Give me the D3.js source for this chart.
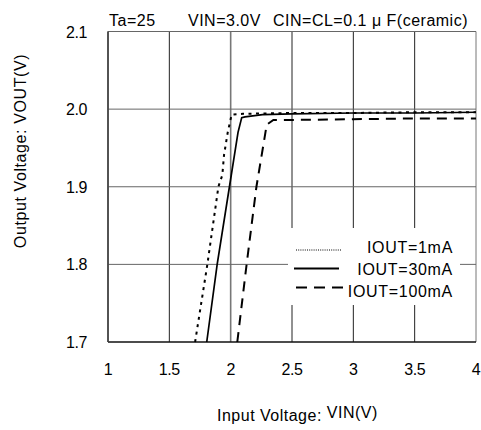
<!DOCTYPE html>
<html>
<head>
<meta charset="utf-8">
<script src="https://cdn.jsdelivr.net/npm/d3@7"></script>
<style>
  body { margin: 0; background: #fff; }
  text { font-family: Arial, "Liberation Sans", sans-serif; fill: #000; }
</style>
</head>
<body>
<svg id="chart" width="481" height="430"></svg>
<script>
// series (VIN in V, VOUT in V)
const vin1mA = [1.71, 1.81, 1.90, 1.932, 1.946, 1.976, 2.008, 2.1, 2.5, 3.0, 3.5, 4.0];
const vout1mA = [1.70, 1.80, 1.90, 1.915, 1.941, 1.970, 1.993, 1.994, 1.995, 1.995, 1.996, 1.996];
const vin30mA = [1.805, 1.89, 1.99, 2.06, 2.09, 2.117, 2.26, 2.5, 3.0, 3.5, 4.0];
const vout30mA = [1.70, 1.80, 1.90, 1.97, 1.989, 1.990, 1.993, 1.994, 1.995, 1.995, 1.996];
const vin100mA = [2.054, 2.13, 2.21, 2.294, 2.348, 2.457, 3.0, 3.5, 4.0];
const vout100mA = [1.70, 1.80, 1.90, 1.98, 1.986, 1.986, 1.987, 1.988, 1.988];

const xTicks = [1, 1.5, 2, 2.5, 3, 3.5, 4];
const yTicks = [1.7, 1.8, 1.9, 2.0, 2.1];
const seriesNames = ["IOUT=1mA", "IOUT=30mA", "IOUT=100mA"];

const svg = d3.select("#chart");
const plotLeft = 108, plotRight = 476, plotTop = 31.5, plotBottom = 342;

const x = d3.scaleLinear().domain([1, 4]).range([plotLeft, plotRight]);
const y = d3.scaleLinear().domain([1.7, 2.1]).range([plotBottom, plotTop]);

// grid
svg.append("g")
  .selectAll("line")
  .data(xTicks)
  .join("line")
  .attr("x1", (d) => x(d)).attr("x2", (d) => x(d))
  .attr("y1", plotTop).attr("y2", plotBottom)
  .attr("stroke", (d) => (d == 2 || d == 4 ? "#777" : "#222"))
  .attr("stroke-width", (d) => (d == 2 ? 1.6 : 1));
svg.append("g")
  .selectAll("line")
  .data(yTicks)
  .join("line")
  .attr("x1", plotLeft).attr("x2", plotRight)
  .attr("y1", (d) => y(d)).attr("y2", (d) => y(d))
  .attr("stroke", (d) => (d == 1.7 ? "#111" : "#666"))
  .attr("stroke-width", (d) => (d == 1.7 ? 1.6 : 1));
svg.append("line")
  .attr("x1", plotLeft).attr("x2", plotLeft)
  .attr("y1", plotTop).attr("y2", plotBottom)
  .attr("stroke", "#444").attr("stroke-width", 1.6);

// tick labels
svg.append("g")
  .selectAll("text")
  .data(xTicks)
  .join("text")
  .attr("x", (d) => x(d))
  .attr("y", 375)
  .attr("text-anchor", "middle")
  .style("font-size", "16px")
  .style("letter-spacing", "-0.4px")
  .text((d) => d3.format("")(d));
svg.append("g")
  .selectAll("text")
  .data(yTicks)
  .join("text")
  .attr("x", 87)
  .attr("y", (d) => y(d) + 6)
  .attr("text-anchor", "end")
  .style("font-size", "16px")
  .style("letter-spacing", "-0.4px")
  .text((d) => d.toFixed(1));

// curves
const line = d3.line().x((d) => x(d[0])).y((d) => y(d[1]));
const series = [
  { xs: vin1mA, ys: vout1mA, width: 2, dash: "3,4.5" },
  { xs: vin30mA, ys: vout30mA, width: 1.7, dash: null },
  { xs: vin100mA, ys: vout100mA, width: 2, dash: "10,7" },
];
series.forEach((s) => {
  svg.append("path")
    .attr("d", line(d3.zip(s.xs, s.ys)))
    .attr("fill", "none")
    .attr("stroke", "#000")
    .attr("stroke-width", s.width)
    .attr("stroke-dasharray", s.dash);
});

// legend
const legend = svg.append("g");
legend.append("rect")
  .attr("x", 288).attr("y", 228)
  .attr("width", 172).attr("height", 77)
  .attr("fill", "#fff");
const legLines = [
  { y: 250, width: 1, dash: "1,1.2", x1: 296, x2: 342 },
  { y: 268.5, width: 1.8, dash: null, x1: 294, x2: 339 },
  { y: 287.5, width: 2, dash: "11,7", x1: 296, x2: 344 },
];
const legText = [253.3, 274.5, 296.7];
legLines.forEach((l, i) => {
  legend.append("line")
    .attr("x1", l.x1).attr("x2", l.x2)
    .attr("y1", l.y).attr("y2", l.y)
    .attr("stroke", "#000")
    .attr("stroke-width", l.width)
    .attr("stroke-dasharray", l.dash);
  legend.append("text")
    .attr("x", 453)
    .attr("y", legText[i])
    .attr("text-anchor", "end")
    .style("font-size", "16px")
    .style("letter-spacing", "0.7px")
    .text(seriesNames[i]);
});

// titles
const title = svg.append("g").style("font-size", "16px").style("letter-spacing", "0.5px");
title.append("text").attr("x", 109).attr("y", 26).text("Ta=25");
title.append("text").attr("x", 188).attr("y", 26).text("VIN=3.0V");
title.append("text").attr("x", 273).attr("y", 26).text("CIN=CL=0.1 μ F(ceramic)");

const xt = svg.append("text")
  .attr("x", 217).attr("y", 421)
  .style("font-size", "16px")
  .style("letter-spacing", "0.5px");
xt.append("tspan").text("Input Voltage: ");
xt.append("tspan").attr("dy", -3).text("VIN(V)");

svg.append("text")
  .attr("transform", "translate(26,151) rotate(-90)")
  .attr("text-anchor", "middle")
  .style("font-size", "16px")
  .style("letter-spacing", "0.6px")
  .text("Output Voltage: VOUT(V)");
</script>
</body>
</html>
